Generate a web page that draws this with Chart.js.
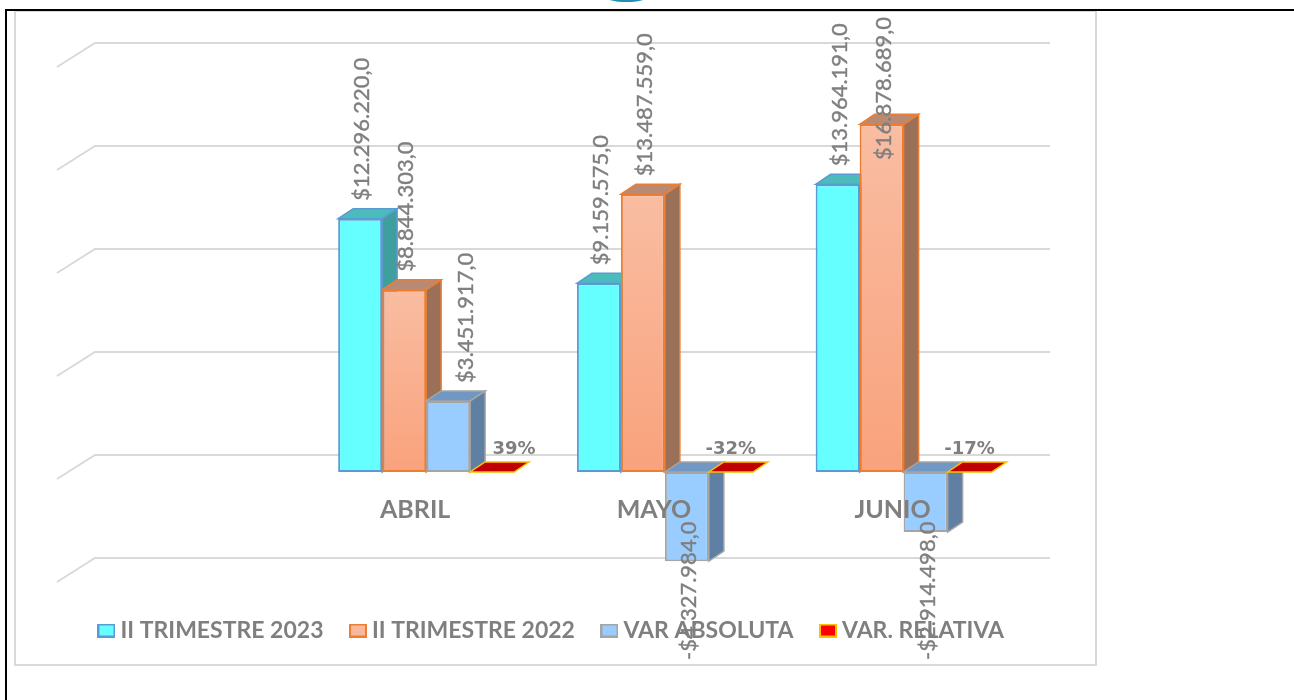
<!DOCTYPE html>
<html><head><meta charset="utf-8">
<script src="https://cdn.jsdelivr.net/npm/chart.js@4"></script>
<style>
html,body{margin:0;padding:0;background:#fff;overflow:hidden;width:1294px;height:700px}
canvas{position:absolute;left:0;top:0}
.f{position:absolute}
</style></head><body>
<div class="f" style="left:601px;top:-10px;width:51px;height:12px;border-radius:0 0 26px 26px/0 0 8px 8px;background:#1f8fb3"></div>
<div class="f" style="left:6px;top:9px;width:1288px;height:2px;background:#000"></div>
<div class="f" style="left:5px;top:9px;width:2px;height:691px;background:#000"></div>
<div class="f" style="left:14px;top:11px;width:1079px;height:652px;border:2px solid #d9d9d9;border-top-width:1px"></div>
<canvas id="c" width="1294" height="700"></canvas>
<script>
const categories = ['', 'ABRIL', 'MAYO', 'JUNIO'];
const seriesNames = ['II TRIMESTRE 2023', 'II TRIMESTRE 2022', 'VAR ABSOLUTA', 'VAR. RELATIVA'];
const trimestre2023 = [null, 12296220, 9159575, 13964191];
const trimestre2022 = [null, 8844303, 13487559, 16878689];
const varAbsoluta = [null, 3451917, -4327984, -2914498];
const varRelativa = [null, 0.39, -0.32, -0.17];

const fills = ['#66FFFF', '#F9B79B', '#99CCFF', '#FF0000'];
const borders = ['#5B9BD5', '#ED7D31', '#A5A5A5', '#FFC000'];
const tops = ['#4BBBBB', '#B98A73', '#7098C2', '#C00000'];
const sides = ['#3F9E9E', '#9B7058', '#5F7FA3', '#C00000'];
const GREY = '#7f7f7f', GRID = '#d9d9d9';
const DX = 15, DY = -10;

const money = v => (v < 0 ? '-$' : '$') + Math.abs(v).toLocaleString('de-DE', {minimumFractionDigits: 1, maximumFractionDigits: 1});
const pct = v => Math.round(v * 100) + '%';

function swatch(i) {
  const c = document.createElement('canvas'); c.width = 18; c.height = 14;
  const x = c.getContext('2d');
  x.fillStyle = fills[i]; x.fillRect(0, 0, 18, 14);
  x.strokeStyle = borders[i]; x.lineWidth = 2; x.strokeRect(1, 1, 16, 12);
  return c;
}
function poly(ctx, pts, fill, stroke) {
  ctx.beginPath();
  pts.forEach((p, i) => i ? ctx.lineTo(p[0], p[1]) : ctx.moveTo(p[0], p[1]));
  ctx.closePath();
  ctx.fillStyle = fill; ctx.fill();
  ctx.strokeStyle = stroke; ctx.lineWidth = 1.5; ctx.stroke();
}
const bar3d = {
  id: 'bar3d',
  afterLayout(chart) {
    const l = chart.legend;
    l.left -= 93; l.right -= 93; l.top += 12; l.bottom += 12;
    l.adjustHitBoxes();
  },
  beforeDatasetsDraw(chart) {
    const ctx = chart.ctx, a = chart.chartArea, ys = chart.scales.y;
    ctx.save();
    ctx.strokeStyle = GRID; ctx.lineWidth = 2;
    ys.ticks.forEach(t => {
      const y = ys.getPixelForValue(t.value);
      ctx.beginPath();
      ctx.moveTo(a.left - 11, y + 7);
      ctx.lineTo(a.left + 27, y - 17);
      ctx.lineTo(a.right + 27, y - 17);
      ctx.stroke();
    });
    chart.data.datasets.forEach((ds, d) => {
      const meta = chart.getDatasetMeta(d);
      meta.data.forEach((el, i) => {
        if (ds.data[i] == null) return;
        const w = el.width / 2, L = el.x - w, R = el.x + w;
        const T = Math.min(el.y, el.base), B = Math.max(el.y, el.base);
        if (B - T > 1) poly(ctx, [[R, T], [R + DX, T + DY], [R + DX, B + DY], [R, B]], sides[d], borders[d]);
        poly(ctx, [[L, T], [L + DX, T + DY], [R + DX, T + DY], [R, T]], tops[d], borders[d]);
      });
      meta.controller.draw();
    });
    ctx.restore();
  },
  beforeDatasetDraw() { return false; },
  afterDatasetsDraw(chart) {
    const ctx = chart.ctx;
    ctx.save();
    ctx.fillStyle = GREY;
    ctx.strokeStyle = GREY;
    ctx.lineWidth = 0.4;
    [0, 1, 2].forEach(d => {
      const ds = chart.data.datasets[d], meta = chart.getDatasetMeta(d);
      ctx.font = '22px Lato';
      meta.data.forEach((el, i) => {
        const v = ds.data[i];
        if (v == null) return;
        const s = money(v), len = ctx.measureText(s).width;
        let bottom;
        if (v >= 0) {
          bottom = Math.min(el.y, el.base) - 18;
          if (bottom - len < 17) bottom = 17 + len;
        } else {
          bottom = Math.min(Math.max(el.y, el.base) + 10 + len, 660);
        }
        const x = el.x + 2 + (d === 2 && v >= 0 ? 16 : 0);
        ctx.save();
        ctx.translate(x, bottom);
        ctx.rotate(-Math.PI / 2);
        ctx.textAlign = 'left'; ctx.textBaseline = 'middle';
        ctx.fillText(s, 0, 0);
        ctx.strokeText(s, 0, 0);
        ctx.restore();
      });
    });
    const ds = chart.data.datasets[3], meta = chart.getDatasetMeta(3);
    ctx.font = 'bold 18px "DejaVu Sans"';
    ctx.textAlign = 'center'; ctx.textBaseline = 'middle';
    meta.data.forEach((el, i) => {
      const v = ds.data[i];
      if (v == null) return;
      ctx.fillText(pct(v), el.x + (v >= 0 ? 22 : 0), 449);
    });
    ctx.restore();
  }
};
const sources = [trimestre2023, trimestre2022, varAbsoluta, varRelativa];
new Chart(document.getElementById('c'), {
  type: 'bar',
  data: {
    labels: categories,
    datasets: sources.map((data, d) => ({
      label: seriesNames[d],
      data,
      backgroundColor: d === 1 ? (c => {
        if (!c.chart.chartArea || c.raw == null) return fills[1];
        const s = c.chart.scales.y;
        const g = c.chart.ctx.createLinearGradient(0, s.getPixelForValue(c.raw), 0, s.getPixelForValue(0));
        g.addColorStop(0, '#F9BDA2'); g.addColorStop(1, '#F9A27C');
        return g;
      }) : fills[d],
      borderColor: borders[d],
      borderWidth: 2,
      borderSkipped: false,
      categoryPercentage: 0.737,
      barPercentage: 1
    }))
  },
  options: {
    responsive: false, animation: false,
    layout: {padding: {left: 0, right: 0, top: 60, bottom: 60}},
    scales: {
      x: {
        position: {y: 0},
        grid: {display: false}, border: {display: false},
        ticks: {z: 1, color: GREY, font: {family: 'Lato', weight: 'bold', size: 25}, padding: 15, labelOffset: -11, autoSkip: false, maxRotation: 0}
      },
      y: {
        min: -5000000, max: 20000000,
        grid: {display: false}, border: {display: false},
        ticks: {display: false, stepSize: 5000000},
        afterFit: s => { s.width = 68; }
      },
      yRight: {
        position: 'right', min: 0, max: 1,
        grid: {display: false}, border: {display: false},
        ticks: {display: false},
        afterFit: s => { s.width = 271; }
      }
    },
    plugins: {
      tooltip: {enabled: false},
      legend: {
        position: 'bottom',
        labels: {
          color: GREY, font: {family: 'Lato', weight: 'bold', size: 23},
          usePointStyle: true, pointStyleWidth: 5, padding: 32,
          generateLabels: ch => ch.data.datasets.map((ds, d) => ({text: ds.label, pointStyle: swatch(d), datasetIndex: d, fontColor: GREY, hidden: false, lineWidth: 0}))
        }
      }
    }
  },
  plugins: [bar3d]
});
</script>
</body></html>
